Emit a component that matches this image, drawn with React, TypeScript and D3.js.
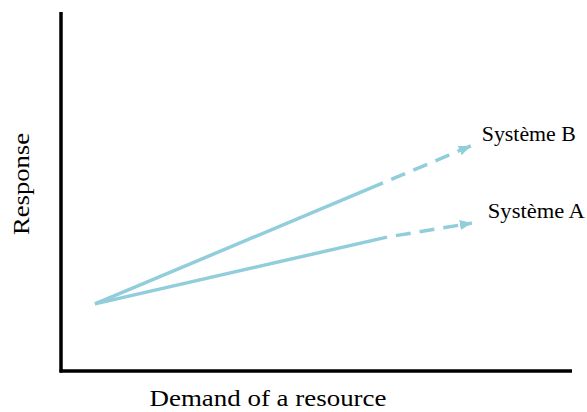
import React from "react";
import * as d3 from "d3";

const W = 587;
const H = 412;

// Conceptual data (arbitrary units)
const systems = ["Système A", "Système B"];
const startPoint = { demand: 0.665, response: 1.87 };
const solidEnd = { "Système A": { demand: 6.38, response: 3.73 }, "Système B": { demand: 6.3, response: 5.24 } };
const projectedEnd = { "Système A": { demand: 8.04, response: 4.12 }, "Système B": { demand: 8.02, response: 6.27 } };
const xTitle = "Demand of a resource";
const yTitle = "Response";

const COLOR = "#92CDDC";

export default function App() {
  const x = d3.scaleLinear().domain([0, 10]).range([61, 572]);
  const y = d3.scaleLinear().domain([0, 10]).range([371, 12]);
  const line = d3
    .line<{ demand: number; response: number }>()
    .x((d) => x(d.demand))
    .y((d) => y(d.response));

  const labelPos: Record<string, { dx: number; dy: number; len: number }> = {
    "Système B": { dx: 11, dy: -5, len: 94 },
    "Système A": { dx: 16, dy: -5, len: 97 },
  };

  return (
    <svg
      width={W}
      height={H}
      style={{ position: "absolute", left: 0, top: 0, background: "#fff" }}
      fontFamily="'Liberation Serif', 'Times New Roman', serif"
    >
      <defs>
        <marker
          id="arrow"
          viewBox="0 0 12 10"
          refX="12"
          refY="5"
          markerWidth="12"
          markerHeight="10"
          markerUnits="userSpaceOnUse"
          orient="auto"
        >
          <path d="M0,0 L12,5 L0,10 Z" fill={COLOR} />
        </marker>
      </defs>

      {/* axes */}
      <line x1={x(0)} y1={y(10)} x2={x(0)} y2={y(0) + 1.5} stroke="#000" strokeWidth={3.5} />
      <line x1={x(0) - 1.5} y1={y(0)} x2={x(10)} y2={y(0)} stroke="#000" strokeWidth={3.5} />

      {systems.map((s) => {
        const se = (solidEnd as any)[s];
        const pe = (projectedEnd as any)[s];
        const lp = labelPos[s];
        return (
          <g key={s}>
            <path d={line([startPoint, se]) || ""} stroke={COLOR} strokeWidth={3.5} fill="none" />
            <path
              d={line([se, pe]) || ""}
              stroke={COLOR}
              strokeWidth={3.5}
              fill="none"
              strokeDasharray="15 9"
              strokeDashoffset={-9}
              markerEnd="url(#arrow)"
            />
            <text
              x={x(pe.demand) + lp.dx}
              y={y(pe.response) + lp.dy}
              fontSize={20}
              textLength={lp.len}
              lengthAdjust="spacingAndGlyphs"
              fill="#000"
              style={{ whiteSpace: "pre" }}
            >
              {s}
            </text>
          </g>
        );
      })}

      <text
        x={268}
        y={406}
        fontSize={23}
        textAnchor="middle"
        textLength={237}
        lengthAdjust="spacingAndGlyphs"
        fill="#000"
      >
        {xTitle}
      </text>
      <text
        transform="translate(29,184) rotate(-90)"
        fontSize={24}
        textAnchor="middle"
        textLength={102}
        lengthAdjust="spacingAndGlyphs"
        fill="#000"
      >
        {yTitle}
      </text>
    </svg>
  );
}
